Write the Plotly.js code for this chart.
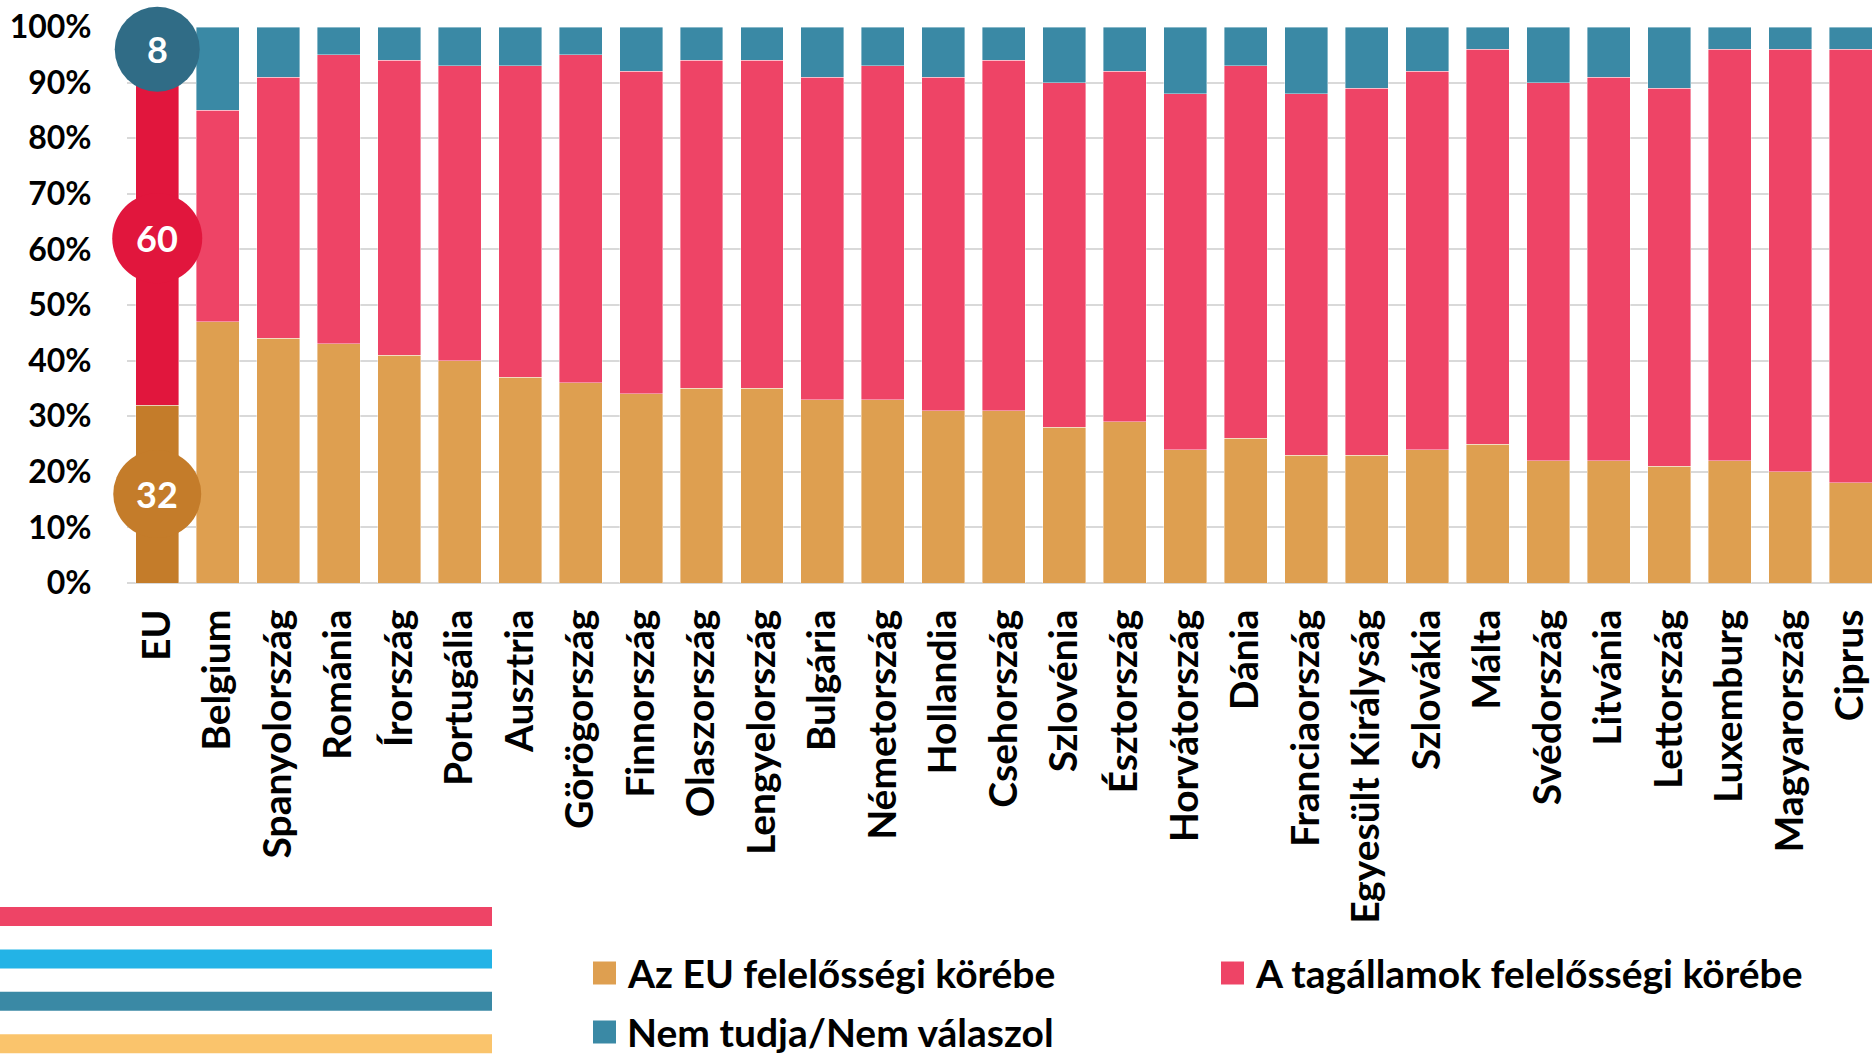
<!DOCTYPE html>
<html>
<head>
<meta charset="utf-8">
<script src="https://cdn.plot.ly/plotly-3.0.1.min.js"></script>
<style>
  html, body { margin: 0; padding: 0; background: #fff; }
  #chart { width: 1872px; height: 1055px; }
</style>
</head>
<body>
<div id="chart"></div>
<script>
// Countries, EU average first
const countries = ['EU', 'Belgium', 'Spanyolország', 'Románia', 'Írország', 'Portugália',
  'Ausztria', 'Görögország', 'Finnország', 'Olaszország', 'Lengyelország', 'Bulgária',
  'Németország', 'Hollandia', 'Csehország', 'Szlovénia', 'Észtország', 'Horvátország',
  'Dánia', 'Franciaország', 'Egyesült Királyság', 'Szlovákia', 'Málta', 'Svédország',
  'Litvánia', 'Lettország', 'Luxemburg', 'Magyarország', 'Ciprus'];

const seriesNames = ['Az EU felelősségi körébe', 'A tagállamok felelősségi körébe', 'Nem tudja/Nem válaszol'];

// values in %
const euResp = [32, 47, 44, 43, 41, 40, 37, 36, 34, 35, 35, 33, 33, 31, 31, 28, 29, 24, 26, 23, 23, 24, 25, 22, 22, 21, 22, 20, 18];
const memberResp = [60, 38, 47, 52, 53, 53, 56, 59, 58, 59, 59, 58, 60, 60, 63, 62, 63, 64, 67, 65, 66, 68, 71, 68, 69, 68, 74, 76, 78];
const dontKnow = [8, 15, 9, 5, 6, 7, 7, 5, 8, 6, 6, 9, 7, 9, 6, 10, 8, 12, 7, 12, 11, 8, 4, 10, 9, 11, 4, 4, 4];

const yTicks = [0, 10, 20, 30, 40, 50, 60, 70, 80, 90, 100];
const yTickText = yTicks.map((v) => v + '%');

const colors = ['#DE9F50', '#EE4466', '#3A89A5'];
const euColors = ['#C47C2A', '#E1163D', '#306C86'];
const stripeColors = ['#EE4466', '#23B3E6', '#3A89A5', '#FAC46C'];

const FONT = 'Lato, "Open Sans", sans-serif';

function colorArray(i) {
  return countries.map((c) => c === 'EU' ? euColors[i] : colors[i]);
}

const data = [euResp, memberResp, dontKnow].map((vals, i) => ({
  type: 'bar',
  x: countries,
  y: vals,
  name: seriesNames[i],
  marker: { color: colorArray(i), line: { color: 'rgba(255,255,255,0.5)', width: 0.8 } },
  hoverinfo: 'x+y+name',
  showlegend: false,
}));

// EU bubbles at the middle of each segment (scatter so they are not clipped)
const euIdx = countries.indexOf('EU');
const euVals = [euResp[euIdx], memberResp[euIdx], dontKnow[euIdx]];
const bubbleY = [];
let base = 0;
euVals.forEach((v) => { bubbleY.push(base + v / 2); base += v; });

data.push({
  type: 'scatter',
  mode: 'markers',
  x: euVals.map(() => 'EU'),
  y: bubbleY,
  marker: { size: [88, 90, 85], color: euColors, line: { width: 0 }, opacity: 1 },
  cliponaxis: false,
  hoverinfo: 'skip',
  showlegend: false,
});

// pixel offsets are relative to the bottom-left corner of the plot area
const shapes = [];
const annotations = [];

euVals.forEach((v, i) => {
  annotations.push({
    x: 'EU', y: bubbleY[i], xref: 'x', yref: 'y', text: String(v), showarrow: false,
    font: { family: FONT, size: 36, color: '#fff', weight: 700 },
  });
});

// decorative stripes bottom-left
stripeColors.forEach((c, i) => {
  const top = -324 - i * 42.4;
  shapes.push({
    type: 'rect', xref: 'paper', yref: 'paper',
    xsizemode: 'pixel', ysizemode: 'pixel', xanchor: 0, yanchor: 0,
    x0: -130, x1: 365, y0: top - 19, y1: top,
    fillcolor: c, line: { width: 0 },
  });
});

// legend built by hand (squares larger than plotly's)
const legendPos = [[466, -390], [1094, -390], [466, -449]];
seriesNames.forEach((name, i) => {
  const [px, py] = legendPos[i];
  shapes.push({
    type: 'rect', xref: 'paper', yref: 'paper',
    xsizemode: 'pixel', ysizemode: 'pixel', xanchor: 0, yanchor: 0,
    x0: px, x1: px + 23, y0: py - 11.5, y1: py + 11.5,
    fillcolor: colors[i], line: { width: 0 },
  });
  annotations.push({
    xref: 'paper', yref: 'paper', x: 0, y: 0, xanchor: 'left', yanchor: 'middle',
    xshift: px + 32, yshift: py, text: name, showarrow: false,
    font: { family: FONT, size: 39, color: '#000', weight: 700 },
  });
});

const layout = {
  width: 1872,
  height: 1055,
  margin: { l: 127, r: 0, t: 27, b: 472 },
  paper_bgcolor: '#fff',
  plot_bgcolor: '#fff',
  barmode: 'stack',
  bargap: 0.29,
  font: { family: FONT, color: '#000' },
  xaxis: {
    type: 'category',
    range: [-0.5, 28.355],
    tickangle: -90,
    ticks: 'outside', ticklen: 10, tickcolor: 'rgba(0,0,0,0)',
    tickfont: { family: FONT, size: 39, color: '#000', weight: 700 },
    showgrid: false,
    fixedrange: true,
  },
  yaxis: {
    range: [0, 100],
    tickvals: yTicks,
    ticktext: yTickText,
    ticks: 'outside', ticklen: 28, tickcolor: 'rgba(0,0,0,0)',
    tickfont: { family: FONT, size: 32, color: '#000', weight: 700 },
    gridcolor: '#D9D9D9', gridwidth: 2,
    zeroline: true, zerolinecolor: '#D9D9D9', zerolinewidth: 2,
    fixedrange: true,
  },
  shapes: shapes,
  annotations: annotations,
};

Plotly.newPlot('chart', data, layout, { displayModeBar: false, responsive: false });
</script>
</body>
</html>
